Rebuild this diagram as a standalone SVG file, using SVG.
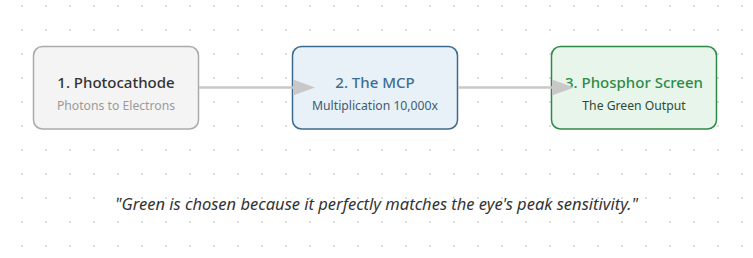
<svg xmlns="http://www.w3.org/2000/svg" width="753" height="258" viewBox="0 0 753 258">
<defs>
<pattern id="dots" x="21" y="5" width="24" height="24" patternUnits="userSpaceOnUse">
<rect x="0" y="0" width="2" height="2" fill="#dcdcdc"/>
</pattern>
<marker id="arrow" viewBox="0 0 22 16" refX="0" refY="8" markerWidth="22" markerHeight="16" markerUnits="userSpaceOnUse" orient="auto">
<path d="M0,0 L22,8 L0,16 Z" fill="#c8c8c8"/>
</marker>
<style>
.box{stroke-width:1.5}
.title{font-family:"Noto Sans","Open Sans",sans-serif;font-size:15px;font-weight:500;text-anchor:middle}
.sub{font-family:"Noto Sans","Open Sans",sans-serif;font-size:12.2px;text-anchor:middle}
.edge{stroke:#c8c8c8;stroke-width:2.5;fill:none}
.quote{font-family:"Noto Sans","Open Sans",sans-serif;font-size:16.5px;font-style:italic;fill:#333;text-anchor:middle}
</style>
</defs>
<rect width="753" height="258" fill="#ffffff"/>
<rect width="753" height="258" fill="url(#dots)"/>
<g id="node1">
<rect class="box" x="33.5" y="46.5" width="165" height="82.5" rx="9" fill="#f4f4f4" stroke="#aaaaaa"/>
<text class="title" x="116" y="87.5" fill="#333333">1. Photocathode</text>
<text class="sub" x="116" y="110" fill="#9a9a9a">Photons to Electrons</text>
</g>
<g id="node2">
<rect class="box" x="292.5" y="46.5" width="165" height="82.5" rx="9" fill="#e9f1f8" stroke="#3c6a8e"/>
<text class="title" x="375" y="87.5" fill="#3c6e93">2. The MCP</text>
<text class="sub" x="375" y="110" fill="#3d5b75">Multiplication 10,000x</text>
</g>
<g id="node3">
<rect class="box" x="551.5" y="46.5" width="165" height="82.5" rx="9" fill="#e8f5ea" stroke="#2f8a47"/>
<text class="title" x="634" y="87.5" fill="#2e8b47">3. Phosphor Screen</text>
<text class="sub" x="634" y="110" fill="#2e4a37">The Green Output</text>
</g>
<g id="connectors">
<line class="edge" x1="199" y1="87.5" x2="293" y2="87.5" marker-end="url(#arrow)"/>
<line class="edge" x1="458" y1="87.5" x2="552" y2="87.5" marker-end="url(#arrow)"/>
</g>
<text class="quote" x="376.5" y="210">"Green is chosen because it perfectly matches the eye's peak sensitivity."</text>
</svg>
